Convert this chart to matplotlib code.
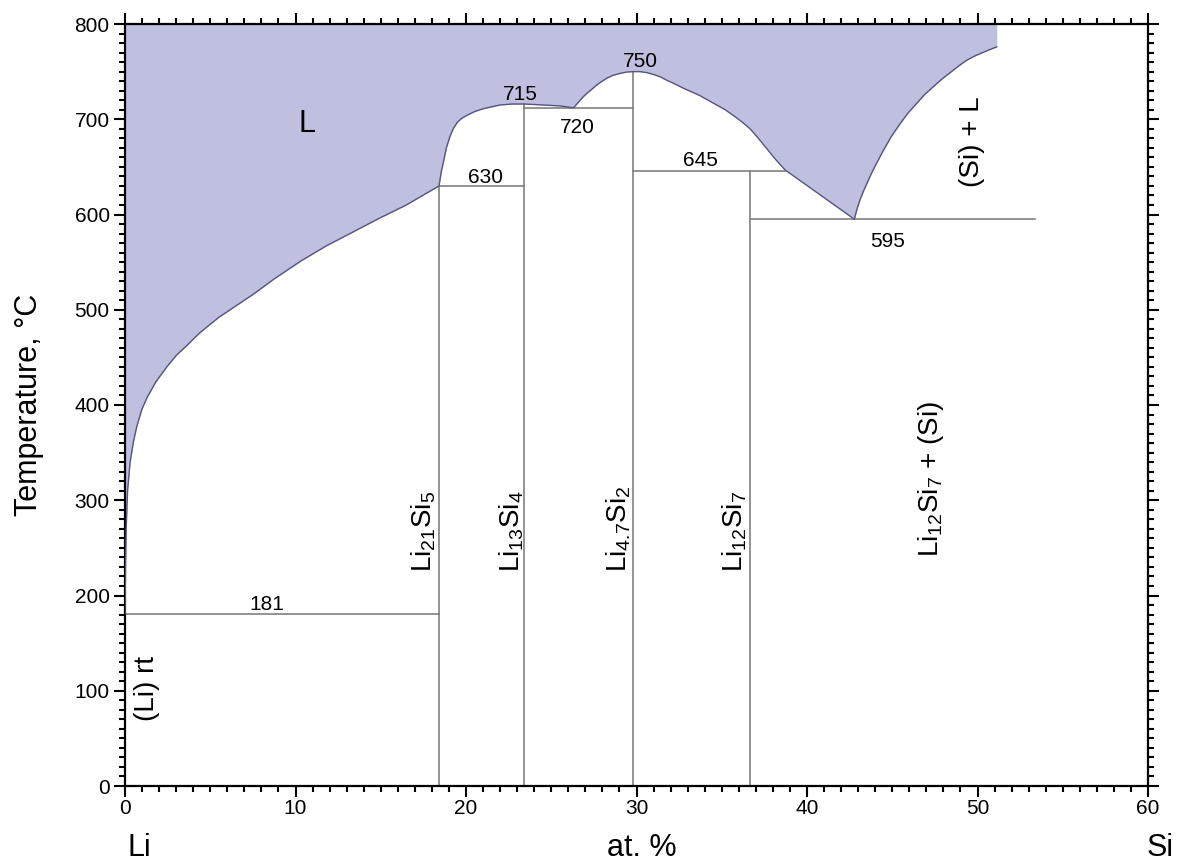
import matplotlib.pyplot as plt
from matplotlib.ticker import MultipleLocator

plt.rcParams['font.family'] = ['Liberation Sans', 'DejaVu Sans']
plt.rcParams['mathtext.default'] = 'regular'

# liquidus (at. % Si, temperature in C)
liq_x = [0, 0.03, 0.07, 0.15, 0.3, 0.5, 0.7, 1.0, 1.3, 1.8, 2.45, 3.0, 3.6, 4.4,
         5.5, 6.5, 7.5, 8.8, 10.3, 11.8, 13.2, 14.8, 16.5, 18.42,
         18.55, 18.7, 18.85, 19.06, 19.25, 19.5, 19.75, 20.04, 20.5, 21.0, 21.5,
         22.0, 22.7, 23.42, 24.5, 25.5, 26.3,
         26.5, 26.7, 26.9, 27.08, 27.35, 27.6, 27.9, 28.25, 28.6, 29.0, 29.4, 29.8,
         30.2, 30.6, 31.0, 31.4, 31.77, 32.2, 32.7, 33.2, 33.7,
         34.2, 34.7, 35.2, 35.68, 36.2, 36.66, 37.1, 37.6, 38.1, 38.7, 42.78,
         42.92, 43.1, 43.3, 43.5, 43.75, 44.0, 44.47, 44.95, 45.45, 45.9, 46.4,
         46.9, 47.4, 47.9, 48.4, 48.9, 49.37, 49.85, 50.3, 50.7, 51.13]
liq_t = [181, 230, 270, 310, 340, 362, 378, 396, 408, 424, 440, 452, 462, 476,
         492, 504, 516, 533, 551, 567, 580, 595, 610, 630,
         645, 657, 670, 682, 690, 697, 701, 704, 708, 711, 713,
         715, 716, 716, 715, 714, 712,
         716, 720, 724, 727, 731, 735, 739, 743, 746, 748, 749.5, 750,
         750, 749, 747, 744.5, 741, 737.5, 733, 729, 725,
         720, 715, 710, 704, 697, 690, 681, 670, 659, 647, 595,
         605, 615, 624, 632, 642, 651, 667, 682, 695, 706, 716,
         726, 734, 742, 749, 756, 762, 766.5, 770, 773, 776]

# compound lines: x, top temperature
comp_x = [18.42, 23.42, 29.8, 36.66]
comp_top = [630, 716, 750, 646]
comp_names = ['$Li_{21}Si_5$', '$Li_{13}Si_4$', '$Li_{4.7}Si_2$', '$Li_{12}Si_7$']
comp_lab_x = [17.54, 22.70, 28.94, 35.78]

# invariant horizontals: x start, x end, temperature
inv_x0 = [0, 18.42, 23.42, 29.8, 36.66]
inv_x1 = [18.42, 23.42, 29.8, 38.7, 53.4]
inv_t = [181, 630, 712, 646, 595]

# temperature labels
num_text = ['181', '630', '715', '720', '750', '645', '595']
num_x = [8.31, 21.16, 23.2, 26.54, 30.2, 33.77, 44.72]
num_y = [185, 633, 720, 686, 755, 651, 566]

fig = plt.figure(figsize=(11.77, 8.66), dpi=100)
ax = fig.add_axes([125 / 1177, 1 - 786 / 866, 1023 / 1177, 762 / 866])

ax.fill_between(liq_x, liq_t, 800, color='#bfbfdf', lw=0, zorder=1)
ax.plot(liq_x, liq_t, color='#55557f', lw=1.0, zorder=3)

grey = '#808080'
for x, top in zip(comp_x, comp_top):
    ax.plot([x, x], [0, top], color=grey, lw=1.2, zorder=2)
for x0, x1, t in zip(inv_x0, inv_x1, inv_t):
    ax.plot([x0, x1], [t, t], color=grey, lw=1.2, zorder=2)

for s, x, y in zip(num_text, num_x, num_y):
    ax.text(x, y, s, fontsize=15, ha='center', va='baseline')

for s, x in zip(comp_names, comp_lab_x):
    ax.text(x, 225, s, fontsize=20, rotation=90, ha='center', va='bottom')

ax.text(10.7, 687, 'L', fontsize=22, ha='center', va='baseline')
ax.text(49.68, 629, '(Si) + L', fontsize=20, rotation=90, ha='center', va='bottom')
ax.text(47.27, 240, '$Li_{12}Si_7$ + (Si)', fontsize=20, rotation=90,
        ha='center', va='bottom')
ax.text(1.29, 68, '(Li) rt', fontsize=20, rotation=90, ha='center', va='bottom')

ax.set_xlim(0, 60)
ax.set_ylim(0, 800)
ax.xaxis.set_major_locator(MultipleLocator(10))
ax.xaxis.set_minor_locator(MultipleLocator(1))
ax.yaxis.set_major_locator(MultipleLocator(100))
ax.yaxis.set_minor_locator(MultipleLocator(10))
ax.tick_params(which='both', direction='out', top=True, right=True,
               width=1.5, labelsize=15)
ax.tick_params(which='major', length=8)
ax.tick_params(which='minor', length=4)
ax.tick_params(axis='x', pad=1)
ax.tick_params(axis='y', pad=3)
for sp in ax.spines.values():
    sp.set_linewidth(1.6)

ax.set_ylabel('Temperature, °C', fontsize=22, labelpad=22)
fig.text(642 / 1177, 1 - 863 / 866, 'at. %', fontsize=22, ha='center', va='bottom')
fig.text(127 / 1177, 1 - 863 / 866, 'Li', fontsize=22, ha='left', va='bottom')
fig.text(1147 / 1177, 1 - 863 / 866, 'Si', fontsize=22, ha='left', va='bottom')

fig.savefig('out.png', dpi=100)
